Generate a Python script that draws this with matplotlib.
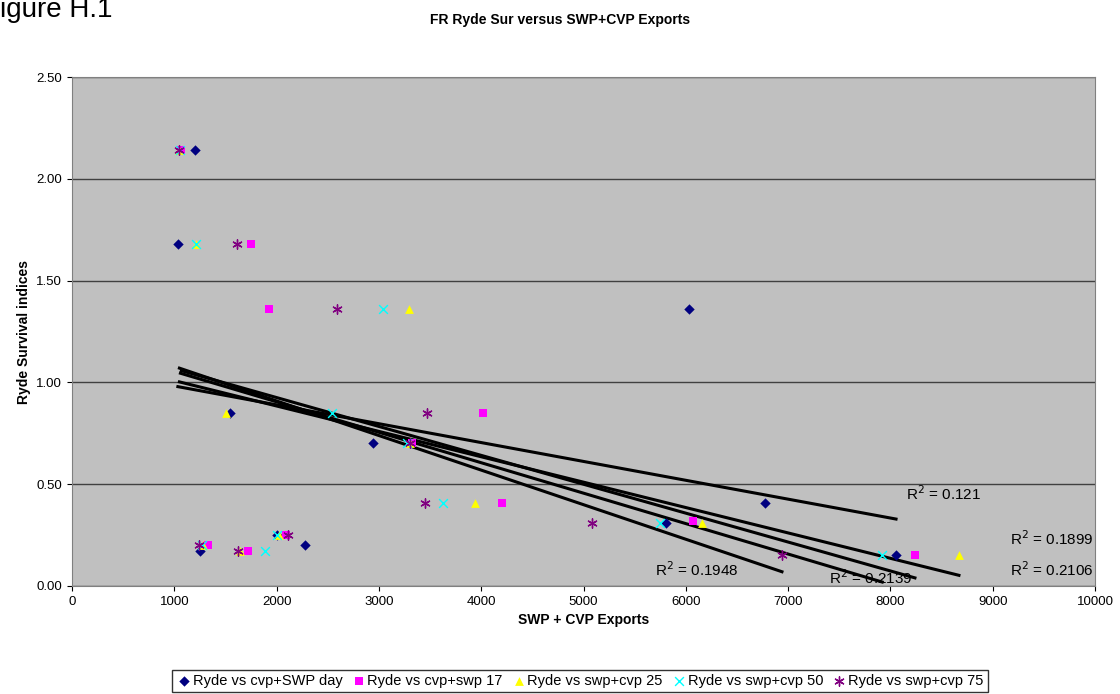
import matplotlib.pyplot as plt
import numpy as np

# series data: (exports, survival index)
day_x = [1200, 1035, 1545, 2940, 6030, 6775, 2280, 1250, 2005, 5805, 8055]
day_y = [2.14, 1.68, 0.85, 0.70, 1.36, 0.41, 0.20, 0.17, 0.25, 0.31, 0.15]
s17_x = [1070, 1750, 1930, 4020, 3325, 4200, 1330, 1720, 2090, 6070, 8240]
s17_y = [2.14, 1.68, 1.36, 0.85, 0.70, 0.41, 0.20, 0.17, 0.25, 0.32, 0.15]
s25_x = [1050, 1210, 3295, 1505, 3300, 3940, 1280, 1640, 2020, 6160, 8670]
s25_y = [2.14, 1.68, 1.36, 0.85, 0.70, 0.41, 0.20, 0.17, 0.25, 0.31, 0.15]
s50_x = [1060, 1210, 3040, 2540, 3270, 3625, 1270, 1885, 2000, 5750, 7920]
s50_y = [2.14, 1.68, 1.36, 0.85, 0.70, 0.41, 0.20, 0.17, 0.25, 0.31, 0.15]
s75_x = [1050, 1615, 2590, 3470, 3300, 3450, 5080, 1240, 1620, 2110, 6940]
s75_y = [2.14, 1.68, 1.36, 0.85, 0.70, 0.41, 0.31, 0.20, 0.17, 0.25, 0.15]

r2_labels = ["0.121", "0.1899", "0.2106", "0.1948", "0.2139"]
r2_pos = [(8150, 0.42), (9170, 0.20), (9170, 0.05), (5700, 0.05), (7400, 0.01)]

series = [
    (day_x, day_y, "D", "#000080", "Ryde vs cvp+SWP day", 28),
    (s17_x, s17_y, "s", "#FF00FF", "Ryde vs cvp+swp 17", 30),
    (s25_x, s25_y, "^", "#FFFF00", "Ryde vs swp+cvp 25", 40),
    (s50_x, s50_y, "x", "#00FFFF", "Ryde vs swp+cvp 50", 40),
    (s75_x, s75_y, (6, 2, 0), "#800080", "Ryde vs swp+cvp 75", 45),
]

fig = plt.figure(figsize=(11.2, 6.94), dpi=100)
ax = fig.add_axes([72 / 1120, 1 - 586 / 694, (1095 - 72) / 1120, (586 - 77) / 694])
ax.set_facecolor("#C0C0C0")

for x, y, m, c, lab, s in series:
    lw = 1.0 if (m == "x" or isinstance(m, tuple)) else 0
    ax.scatter(x, y, marker=m, c=c, s=s, label=lab, linewidths=lw, zorder=3)
    k, b = np.polyfit(x, y, 1)
    xs = np.array([min(x), max(x)])
    ax.plot(xs, k * xs + b, color="black", lw=2.2, zorder=2)

for lab, (px, py) in zip(r2_labels, r2_pos):
    ax.text(px, py, "R$^2$ = " + lab, fontsize=11, family="Liberation Sans")

ax.set_xlim(0, 10000)
ax.set_ylim(0, 2.5)
ax.set_xticks(range(0, 10001, 1000))
ax.set_yticks(np.arange(0, 2.51, 0.5))
ax.set_yticklabels([f"{v:.2f}" for v in np.arange(0, 2.51, 0.5)])
ax.yaxis.grid(True, color="#404040", lw=1)
ax.set_axisbelow(True)
ax.tick_params(labelsize=9.5, direction="out")
for t in ax.get_xticklabels() + ax.get_yticklabels():
    t.set_family("Liberation Sans")
ax.set_xlabel("SWP + CVP Exports", fontsize=10, fontweight="bold", family="Liberation Sans")
ax.set_ylabel("Ryde Survival indices", fontsize=10, fontweight="bold", family="Liberation Sans")
for sp in ax.spines.values():
    sp.set_color("#808080")

fig.text(0.5, 1 - 20 / 694, "FR Ryde Sur versus SWP+CVP Exports", ha="center", va="center",
         fontsize=10, fontweight="bold", family="Liberation Sans")
fig.text(0.0, 1 - 10 / 694, "igure H.1", fontsize=20, va="center", family="Liberation Sans")

leg = fig.legend(loc="center", bbox_to_anchor=(580 / 1120, 1 - 681 / 694), ncol=5,
                 frameon=True, fancybox=False, edgecolor="black",
                 handletextpad=0.1, columnspacing=0.6, borderpad=0.3, handlelength=1,
                 prop={"family": "Liberation Sans", "size": 10.5})
fig.savefig("out.png", dpi=100)
